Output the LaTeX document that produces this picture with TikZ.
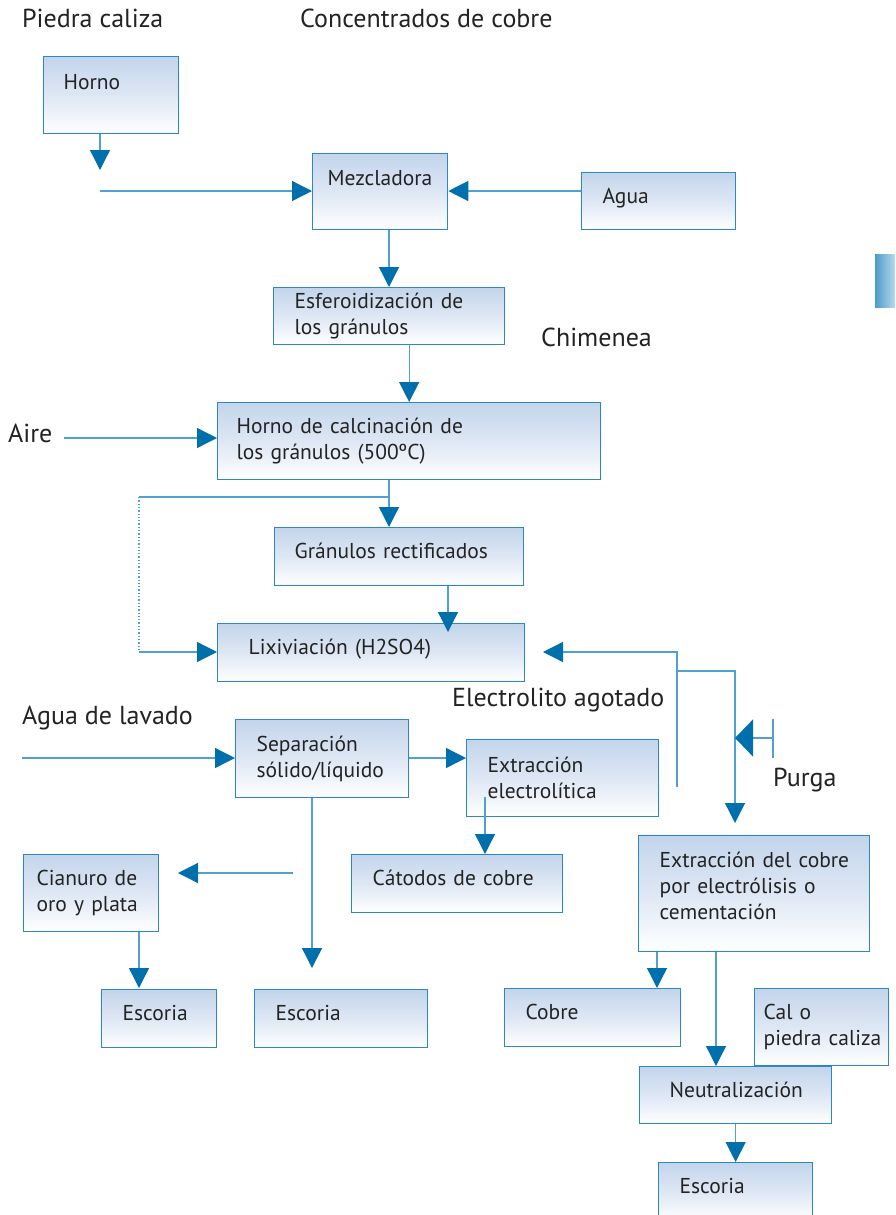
\documentclass[tikz,border=0pt]{standalone}
\usepackage{fontspec}
\setmainfont{PT Sans}
\usetikzlibrary{arrows.meta}
\hyphenpenalty=10000

\definecolor{borde}{RGB}{45,135,195}
\definecolor{linea}{RGB}{80,160,210}
\definecolor{punta}{RGB}{0,112,173}
\definecolor{cajaarriba}{RGB}{195,213,235}
\definecolor{cajamedio}{RGB}{222,231,244}
\definecolor{texto}{RGB}{35,35,35}

\tikzset{
  caja/.style={draw=borde, line width=1.3pt, top color=cajaarriba, bottom color=white,
    middle color=cajamedio, anchor=north west, inner xsep=21pt, inner ysep=0pt,
    align=left, text=texto, font=\fontsize{21.5}{26}\selectfont},
  unalinea/.style={text height=16pt, text depth=12pt},
  etiqueta/.style={anchor=west, inner sep=0pt, text=texto, font=\fontsize{26}{31}\selectfont},
  flecha/.style={linea, line width=1.3pt, -{Triangle[length=20pt,width=20pt,color=punta]}},
  tramo/.style={linea, line width=1.3pt},
}

\begin{document}
\begin{tikzpicture}[x=1pt,y=-1pt]
\useasboundingbox (0,0) rectangle (895,1215);
\fill[white] (0,0) rectangle (895,1215);
\clip (0,0) rectangle (895,1215);

% labels
\node[etiqueta] (piedra) at (22,18) {Piedra caliza};
\node[etiqueta] (concentrados) at (300,18) {Concentrados de cobre};
\node[etiqueta] (chimenea) at (541,337) {Chimenea};
\node[etiqueta] (aire) at (8,433) {Aire};
\node[etiqueta] (agualav) at (22,718) {Agua de lavado};
\node[etiqueta] (electrolito) at (452,700) {Electrolito agotado};
\node[etiqueta] (purga) at (773,780) {Purga};

% small picture fragment at the right edge
\shade[left color=punta!70, right color=linea!40] (875,254) rectangle (895,307);

% boxes
\node[caja, minimum width=135pt, minimum height=77pt, inner xsep=20pt, text width=95pt, text depth=27pt] (horno) at (43,56) {Horno};
\node[caja, minimum width=135pt, minimum height=76pt, inner xsep=15pt, text width=105pt, text depth=27pt] (mezcla) at (312,153) {Mezcladora};
\node[caja, unalinea, minimum width=154pt, minimum height=57pt, text width=112pt] (agua) at (581,172) {Agua};
\node[caja, minimum width=231pt, minimum height=57pt, text width=189pt] (esfero) at (273,287) {Esferoidización de\\los gránulos};
\node[caja, minimum width=383pt, minimum height=77pt, inner xsep=19pt, text width=345pt] (calc) at (217,402) {Horno de calcinación de\\los gránulos (500ºC)};
\node[caja, unalinea, minimum width=249pt, minimum height=58pt, inner xsep=20pt, text width=209pt] (gran) at (274,527) {Gránulos rectificados};
\node[caja, unalinea, minimum width=307pt, minimum height=58pt, inner xsep=31pt, text width=245pt] (lix) at (217,623) {Lixiviación (H2SO4)};
\node[caja, minimum width=173pt, minimum height=78pt, text width=131pt] (sep) at (235,719) {Separación\\sólido/líquido};
\node[caja, minimum width=192pt, minimum height=77pt, text width=150pt] (extel) at (466,739) {Extracción\\electrolítica};
\node[caja, unalinea, minimum width=211pt, minimum height=58pt, text width=169pt] (catodos) at (351,854) {Cátodos de cobre};
\node[caja, minimum width=135pt, minimum height=77pt, inner xsep=13pt, text width=109pt] (cianuro) at (23,854) {Cianuro de\\oro y plata};
\node[caja, unalinea, minimum width=115pt, minimum height=58pt, text width=73pt] (esc1) at (101,989) {Escoria};
\node[caja, unalinea, minimum width=173pt, minimum height=58pt, text width=131pt] (esc2) at (254,989) {Escoria};
\node[caja, minimum width=231pt, minimum height=116pt, text width=189pt, text depth=67pt] (extcu) at (638,835) {\mbox{Extracción del cobre}\\\mbox{por electrólisis o}\\cementación};
\node[caja, unalinea, minimum width=176pt, minimum height=58pt, text width=134pt] (cobre) at (504,988) {Cobre};
\node[caja, unalinea, minimum width=192pt, minimum height=57pt, inner xsep=30pt, text width=132pt] (neutral) at (639,1066) {Neutralización};
\node[caja, minimum width=134pt, minimum height=77pt, inner xsep=9pt, text width=116pt] (cal) at (754,988) {Cal o\\\mbox{piedra caliza}};
\node[caja, unalinea, minimum width=154pt, minimum height=58pt, text width=112pt] (esc3) at (658,1162) {Escoria};

% free ends and bends
\coordinate (hornoOut) at (100,170);
\coordinate (mezclaIn) at (100,191);
\coordinate (aireIn) at (64,438);
\coordinate (j1) at (389,497);
\coordinate (j2) at (139,497);
\coordinate (j3) at (139,652);
\coordinate (granOut) at (448,632);
\coordinate (e1) at (677,787);
\coordinate (e2) at (677,652);
\coordinate (lixIn) at (543,652);
\coordinate (e3) at (677,671);
\coordinate (e4) at (735,671);
\coordinate (extcuIn) at (735,823);
\coordinate (p1) at (773,719);
\coordinate (p2) at (773,758);
\coordinate (p3) at (773,738);
\coordinate (lavIn) at (22,758);
\coordinate (s1) at (312,968);
\coordinate (s2) at (293,873);
\coordinate (s3) at (178,873);
\coordinate (x1) at (485,797);
\coordinate (q1) at (139,988);
\coordinate (q2) at (657,988);
\coordinate (q3) at (716,1066);

% connectors
\draw[flecha] (horno.south -| hornoOut) -- (hornoOut);
\draw[flecha] (mezclaIn) -- (mezclaIn -| mezcla.west);
\draw[flecha] (agua.west |- mezclaIn) -- (mezclaIn -| mezcla.east);
\draw[flecha] (mezcla.south -| j1) -- (esfero.north -| j1);
\draw[flecha] (esfero.south -| calc.north) -- (calc.north);
\draw[flecha] (aireIn) -- (aireIn -| calc.west);
\draw[flecha] (calc.south -| j1) -- (gran.north -| j1);
\draw[tramo] (j1) -- (j2);
\draw[linea, line width=1.3pt, dotted] (j2) -- (j3);
\draw[flecha] (j3) -- (j3 -| lix.west);
\draw[flecha] (gran.south -| granOut) -- (granOut);
\draw[flecha] (e1) -- (e2) -- (lixIn);
\draw[flecha] (e3) -- (e4) -- (extcuIn);
\draw[tramo] (p1) -- (p2);
\draw[linea, line width=1.3pt, -{Triangle[length=18pt,width=37pt,color=punta]}] (p3) -- (p3 -| e4);
\draw[flecha] (lavIn) -- (lavIn -| sep.west);
\draw[flecha] (lavIn -| sep.east) -- (lavIn -| extel.west);
\draw[flecha] (sep.south -| s1) -- (s1);
\draw[flecha] (s2) -- (s3);
\draw[flecha] (x1) -- (x1 |- catodos.north);
\draw[flecha] (cianuro.south -| q1) -- (q1);
\draw[flecha] (extcu.south -| q2) -- (q2);
\draw[flecha] (extcu.south -| q3) -- (q3);
\draw[flecha] (neutral.south) -- (esc3.north);
\end{tikzpicture}
\end{document}
